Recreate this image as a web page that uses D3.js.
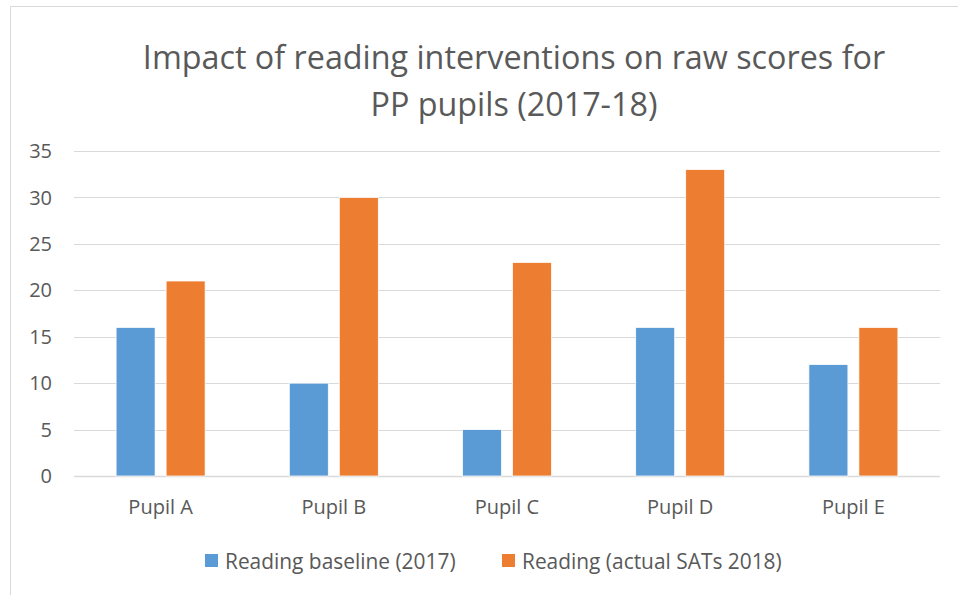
<!DOCTYPE html>
<html>
<head>
<meta charset="utf-8">
<script src="https://cdn.jsdelivr.net/npm/d3@7"></script>
<style>
  body { margin: 0; background: #fff; }
  text { font-family: "Open Sans", Lato, sans-serif; fill: #595959; }
</style>
</head>
<body>
<div id="chart"></div>
<script>
const pupils = ["Pupil A", "Pupil B", "Pupil C", "Pupil D", "Pupil E"];
const baseline2017 = [16, 10, 5, 16, 12];
const sats2018 = [21, 30, 23, 33, 16];
const seriesNames = ["Reading baseline (2017)", "Reading (actual SATs 2018)"];
const seriesColours = ["#5B9BD5", "#ED7D31"];
const yTicks = [0, 5, 10, 15, 20, 25, 30, 35];
const titleLines = ["Impact of reading interventions on raw scores for", "PP pupils (2017-18)"];

const width = 958, height = 595;
const margin = { top: 151, right: 18, bottom: 119, left: 74 };

const svg = d3.select("#chart")
  .append("svg")
  .attr("width", width)
  .attr("height", height);

// chart frame (only top and left edges are in view)
svg.append("path")
  .attr("d", "M10.5,600 V6.5 H960")
  .attr("fill", "none")
  .attr("stroke", "#d9d9d9")
  .attr("stroke-width", 1);

const x = d3.scaleBand()
  .domain(pupils)
  .range([margin.left, width - margin.right]);

const y = d3.scaleLinear()
  .domain([0, 35])
  .range([height - margin.bottom, margin.top]);

// gridlines
svg.append("g")
  .selectAll("line")
  .data(yTicks)
  .enter()
  .append("line")
  .attr("x1", margin.left)
  .attr("x2", width - margin.right)
  .attr("y1", d => Math.round(y(d)) + 0.5)
  .attr("y2", d => Math.round(y(d)) + 0.5)
  .attr("stroke", "#d9d9d9")
  .attr("stroke-width", d => d === 0 ? 1.5 : 1.2);

// y labels
svg.append("g")
  .selectAll("text")
  .data(yTicks)
  .enter()
  .append("text")
  .attr("x", 52)
  .attr("y", d => y(d))
  .attr("dy", "0.36em")
  .attr("text-anchor", "end")
  .style("font-size", "20px")
  .text(d => d);

// bars
const barWidth = 39, barGap = 11;
const series = [baseline2017, sats2018];

series.forEach((values, s) => {
  svg.append("g")
    .selectAll("rect")
    .data(values)
    .enter()
    .append("rect")
    .attr("x", (d, i) => x(pupils[i]) + x.bandwidth() / 2 - barWidth - barGap / 2 + s * (barWidth + barGap))
    .attr("y", d => y(d))
    .attr("width", barWidth)
    .attr("height", d => y(0) - y(d))
    .attr("fill", seriesColours[s])
    .attr("stroke", "#fff")
    .attr("stroke-width", 0.75);
});

// x labels
svg.append("g")
  .selectAll("text")
  .data(pupils)
  .enter()
  .append("text")
  .attr("x", d => x(d) + x.bandwidth() / 2)
  .attr("y", 507)
  .attr("dy", "0.36em")
  .attr("text-anchor", "middle")
  .style("font-size", "20px")
  .text(d => d);

// title
svg.append("g")
  .selectAll("text")
  .data(titleLines)
  .enter()
  .append("text")
  .attr("x", 514)
  .attr("y", (d, i) => 69 + i * 47)
  .attr("text-anchor", "middle")
  .style("font-size", "32.3px")
  .text(d => d);

// legend
const legendX = [205, 502];
const legend = svg.append("g")
  .selectAll("g")
  .data(seriesNames)
  .enter()
  .append("g")
  .attr("transform", (d, i) => "translate(" + legendX[i] + ",561)");

legend.append("rect")
  .attr("x", 0)
  .attr("y", -7)
  .attr("width", 13)
  .attr("height", 13)
  .attr("fill", (d, i) => seriesColours[i]);

legend.append("text")
  .attr("x", 20)
  .attr("y", 0)
  .attr("dy", "0.36em")
  .style("font-size", "20.9px")
  .text(d => d);
</script>
</body>
</html>
